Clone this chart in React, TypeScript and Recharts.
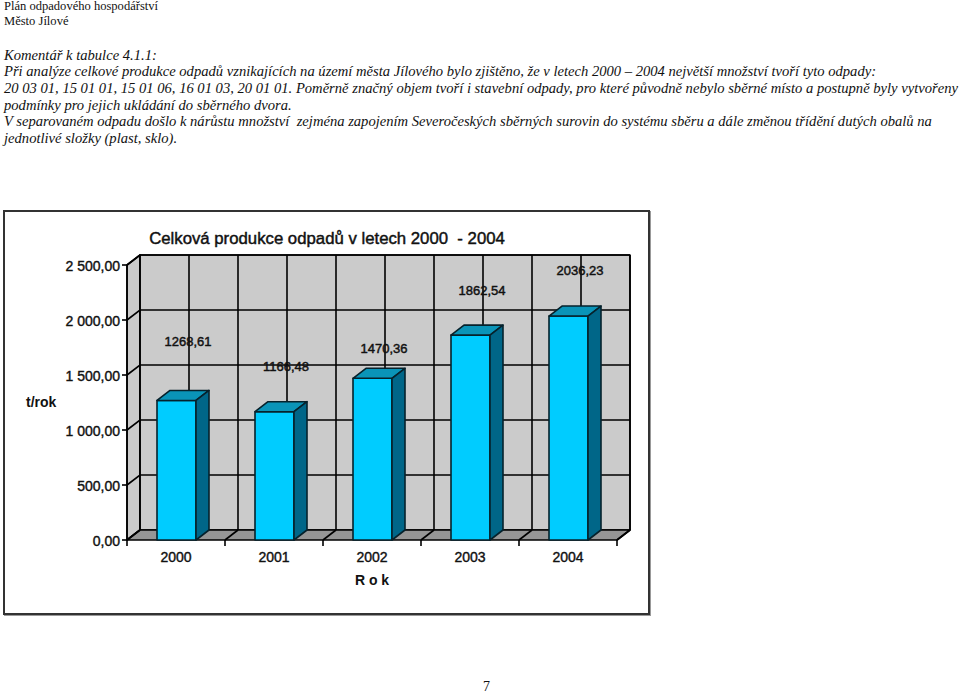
import { BarChart, Bar, XAxis, YAxis, CartesianGrid, ReferenceArea, ReferenceLine, LabelList } from "recharts";

const headerLines = ["Plán odpadového hospodářství", "Město Jílové"];
const commentLines = [
  "Komentář k tabulce 4.1.1:",
  "Při analýze celkové produkce odpadů vznikajících na území města Jílového bylo zjištěno, že v letech 2000 – 2004 největší množství tvoří tyto odpady:",
  "20 03 01, 15 01 01, 15 01 06, 16 01 03, 20 01 01. Poměrně značný objem tvoří i stavební odpady, pro které původně nebylo sběrné místo a postupně byly vytvořeny",
  "podmínky pro jejich ukládání do sběrného dvora.",
  "V separovaném odpadu došlo k nárůstu množství  zejména zapojením Severočeských sběrných surovin do systému sběru a dále změnou třídění dutých obalů na",
  "jednotlivé složky (plast, sklo).",
];

const years = ["2000", "2001", "2002", "2003", "2004"];
const production = [1268.61, 1166.48, 1470.36, 1862.54, 2036.23];
const yTicks = [0, 500, 1000, 1500, 2000, 2500];
const gridSteps = [0, 0.5, 1, 1.5, 2, 2.5, 3, 3.5, 4, 4.5, 5];

const chartData = years.map((year, i) => ({ year, production: production[i] }));

// depth of the fake 3D box
const DX = 13;
const DY = -10;
const INK = "#000";
const LINE = 1.6;
// how far each value label sits above its bar
const labelRise = [59, 46, 30, 45, 46];

const tickLabel = (v: number) => {
  const [whole, frac] = v.toFixed(2).split(".");
  return `${whole.replace(/\B(?=(\d{3})+$)/g, " ")},${frac}`;
};

const Walls = ({ x, y, width, height }: any) => (
  <g stroke={INK} strokeWidth={LINE} strokeLinejoin="round">
    <polygon
      points={`${x},${y} ${x + DX},${y + DY} ${x + DX},${y + height + DY} ${x},${y + height}`}
      fill="#cbcbcb"
    />
    <rect x={x + DX} y={y + DY} width={width} height={height} fill="#cbcbcb" />
    <polygon
      points={`${x},${y + height} ${x + DX},${y + height + DY} ${x + width + DX},${y + height + DY} ${x + width},${y + height}`}
      fill="#969696"
    />
  </g>
);

// value gridline: runs up the side wall and across the back wall
const ValueLine = ({ x1, y1, x2, y2 }: any) => (
  <polyline
    points={`${x1},${y1} ${x1 + DX},${y1 + DY} ${x2 + DX},${y2 + DY}`}
    fill="none"
    stroke={INK}
    strokeWidth={LINE}
  />
);

// category gridline: back wall vertical, plus floor line and tick at band edges
const stepLine = ({ x1, y1, y2, index }: any) => {
  const top = Math.min(y1, y2);
  const bottom = Math.max(y1, y2);
  const isEdge = Number.isInteger(gridSteps[index]);
  return (
    <g key={index} stroke={INK} strokeWidth={LINE} fill="none">
      <line x1={x1 + DX} y1={top + DY} x2={x1 + DX} y2={bottom + DY} />
      {isEdge && <line x1={x1} y1={bottom} x2={x1 + DX} y2={bottom + DY} />}
      {isEdge && <line x1={x1} y1={bottom} x2={x1} y2={bottom + 6} />}
    </g>
  );
};

const Box = ({ x, y, width, height }: any) => (
  <g stroke="#06222c" strokeWidth={LINE} strokeLinejoin="round">
    <rect x={x} y={y} width={width} height={height} fill="#00ccff" />
    <polygon
      points={`${x},${y} ${x + DX},${y + DY} ${x + width + DX},${y + DY} ${x + width},${y}`}
      fill="#0a94b8"
    />
    <polygon
      points={`${x + width},${y} ${x + width + DX},${y + DY} ${x + width + DX},${y + height + DY} ${x + width},${y + height}`}
      fill="#006688"
    />
  </g>
);

const ValueLabel = ({ x, y, width, value, index }: any) => (
  <text
    x={x + width / 2 + 11.5}
    y={y - labelRise[index] + 5}
    textAnchor="middle"
    fontSize={13}
    fontFamily="Liberation Sans"
    fill="#111"
    stroke="#111"
    strokeWidth={0.45}
  >
    {value.toFixed(2).replace(".", ",")}
  </text>
);

const textLine = (text: string, top: number, size: number, italic: boolean) => (
  <div
    key={text}
    style={{
      position: "absolute",
      left: 4,
      top,
      fontFamily: "Liberation Serif",
      fontSize: size,
      fontStyle: italic ? "italic" : "normal",
      lineHeight: "16px",
      whiteSpace: "pre",
      color: "#111",
    }}
  >
    {text}
  </div>
);

const axisFont = { fontSize: 14, fontFamily: "Liberation Sans", fill: "#111", stroke: "#111", strokeWidth: 0.4 };
const axisTitleFont = { fontSize: 14, fontWeight: "bold", fontFamily: "Liberation Sans", fill: "#111" };

export default function App() {
  return (
    <div style={{ position: "absolute", left: 0, top: 0, width: 960, height: 693, background: "#fff" }}>
      {headerLines.map((t, i) => textLine(t, -2 + i * 15, 12.55, false))}
      {commentLines.map((t, i) => textLine(t, 46.6 + i * 16.7, 14.6, true))}

      <div
        style={{
          position: "absolute",
          left: 3,
          top: 210,
          width: 643,
          height: 401,
          border: "2px solid #333",
          boxShadow: "1px 1px 0 #999",
        }}
      >
        <BarChart
          width={643}
          height={401}
          data={chartData}
          barSize={39}
          margin={{ top: 53, right: 31, bottom: 0, left: 0 }}
        >
          <XAxis
            dataKey="year"
            axisLine={false}
            tickLine={false}
            tickMargin={6}
            tick={axisFont}
            height={73}
            interval={0}
            label={{
              value: "R o k",
              position: "insideBottom",
              offset: 28,
              style: axisTitleFont,
            }}
          />
          <YAxis
            domain={[0, 2500]}
            ticks={yTicks}
            width={122}
            interval={0}
            tickSize={5}
            tick={{ ...axisFont, dy: 1 }}
            tickFormatter={tickLabel}
            stroke={INK}
            strokeWidth={LINE}
            label={{
              value: "t/rok",
              position: "insideLeft",
              offset: 21,
              angle: 0,
              style: axisTitleFont,
            }}
          />
          <ReferenceArea y1={0} y2={2500} shape={<Walls />} ifOverflow="visible" />
          <CartesianGrid
            horizontal={false}
            vertical={stepLine}
            verticalCoordinatesGenerator={({ offset }: any) =>
              gridSteps.map((s) => offset.left + (s * offset.width) / years.length)
            }
            zIndex={150}
          />
          {yTicks.slice(1).map((v) => (
            <ReferenceLine key={v} y={v} shape={<ValueLine />} ifOverflow="visible" zIndex={150} />
          ))}
          <Bar dataKey="production" shape={<Box />} isAnimationActive={false}>
            <LabelList dataKey="production" content={<ValueLabel />} />
          </Bar>
          <text
            x={322}
            y={32}
            textAnchor="middle"
            fontSize={16.75}
            fontFamily="Liberation Sans"
            fill="#111"
            stroke="#111"
            strokeWidth={0.45}
            style={{ whiteSpace: "pre" }}
          >
            Celková produkce odpadů v letech 2000  - 2004
          </text>
        </BarChart>
      </div>

      <div
        style={{
          position: "absolute",
          left: 483,
          top: 679,
          fontFamily: "Liberation Serif",
          fontSize: 14,
          lineHeight: "16px",
          color: "#111",
        }}
      >
        7
      </div>
    </div>
  );
}
